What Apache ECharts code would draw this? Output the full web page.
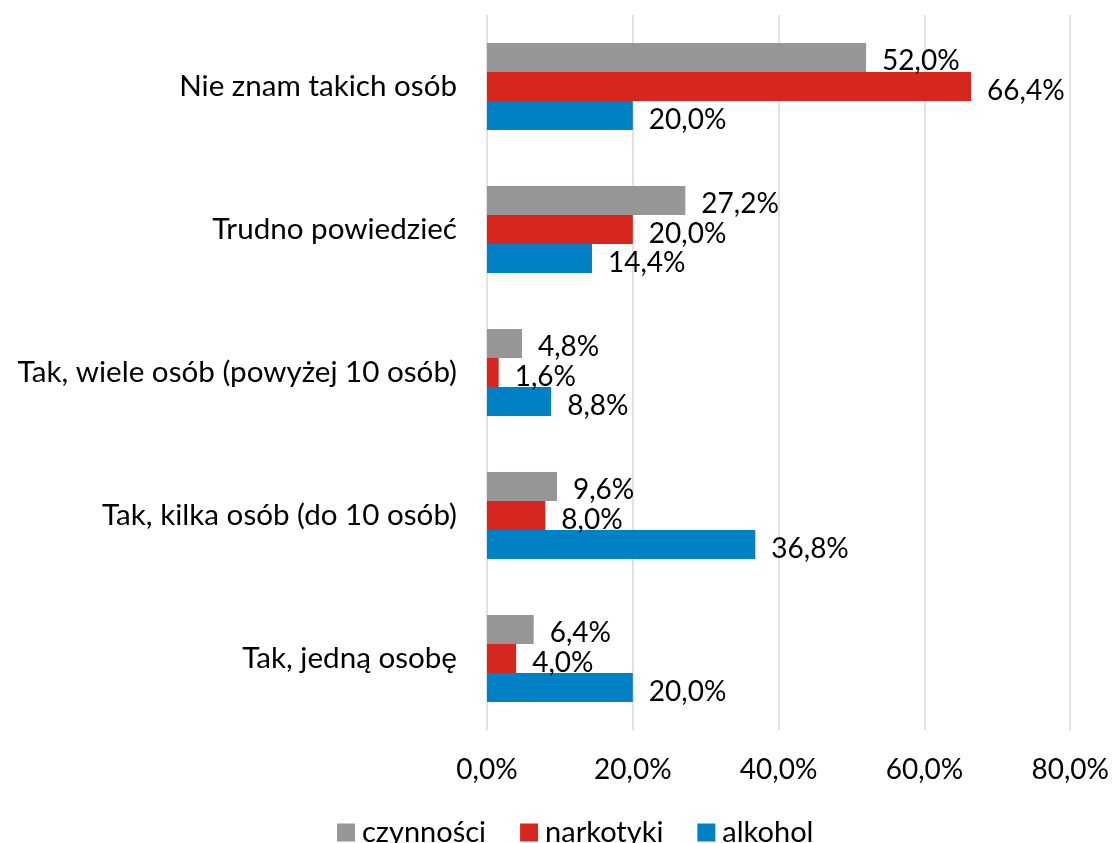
<!DOCTYPE html>
<html><head><meta charset="utf-8">
<script src="https://cdn.jsdelivr.net/npm/echarts@6/dist/echarts.min.js"></script>
<style>html,body{margin:0;padding:0;background:#fff}#c{width:1112px;height:843px}</style>
</head><body><div id="c"></div>
<script>
const categories = ["Nie znam takich osób", "Trudno powiedzieć", "Tak, wiele osób (powyżej 10 osób)", "Tak, kilka osób (do 10 osób)", "Tak, jedną osobę"];
const seriesNames = ["czynności", "narkotyki", "alkohol"];
const czynnosci = [52.0, 27.2, 4.8, 9.6, 6.4];
const narkotyki = [66.4, 20.0, 1.6, 8.0, 4.0];
const alkohol = [20.0, 14.4, 8.8, 36.8, 20.0];
const xTicks = [0, 20, 40, 60, 80];
const colors = ["#979595", "#d7261e", "#0080c5"];
const FONT = "Lato";
const fmt = v => v.toFixed(1).replace(".", ",") + "%";
const chart = echarts.init(document.getElementById("c"), null, {renderer: "canvas"});
const data = [czynnosci, narkotyki, alkohol];
chart.setOption({
  animation: false,
  textStyle: {fontFamily: FONT},
  grid: {left: 487, right: 41, top: 15, bottom: 113, containLabel: false},
  legend: {
    top: 813, left: 332, itemWidth: 18, itemHeight: 18, itemGap: 34, icon: "rect",
    textStyle: {fontSize: 29, color: "#000", fontFamily: FONT, padding: [0, 0, 0, 2]},
    data: seriesNames
  },
  xAxis: {
    type: "value", min: xTicks[0], max: xTicks[xTicks.length - 1], interval: 20,
    axisLine: {show: false}, axisTick: {show: false},
    splitLine: {show: true, lineStyle: {color: "#d9d9d9", width: 1.5}},
    axisLabel: {fontSize: 28, color: "#000", margin: 26, fontFamily: FONT, formatter: v => fmt(v)}
  },
  yAxis: {
    type: "category", data: categories, inverse: true,
    axisLine: {show: false}, axisTick: {show: false},
    axisLabel: {fontSize: 29.6, color: "#000", margin: 30, fontFamily: FONT}
  },
  series: seriesNames.map((n, i) => ({
    name: n, type: "bar", data: data[i], barGap: "0%", barCategoryGap: "39%",
    itemStyle: {color: colors[i]},
    label: {show: true, position: "right", distance: 16, fontSize: 28, color: "#000", fontFamily: FONT,
      offset: [0, 4], formatter: p => fmt(p.value)}
  }))
});
</script></body></html>
